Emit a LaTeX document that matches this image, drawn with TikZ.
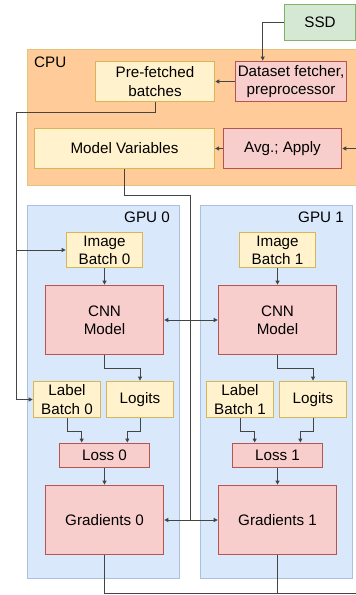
\documentclass[tikz,border=0pt]{standalone}
\usepackage{fontspec}
\setmainfont{Liberation Sans}
\usetikzlibrary{arrows.meta}
\definecolor{yfill}{HTML}{FFF2CC}
\definecolor{ydraw}{HTML}{D6B656}
\definecolor{rfill}{HTML}{F8CECC}
\definecolor{rdraw}{HTML}{B85450}
\definecolor{gfill}{HTML}{D5E8D4}
\definecolor{gdraw}{HTML}{82B366}
\definecolor{cpufill}{HTML}{FFCC99}
\definecolor{cpudraw}{HTML}{E6C27A}
\definecolor{gpufill}{HTML}{DAE8FC}
\definecolor{gpudraw}{HTML}{A9C0E0}
\definecolor{wire}{HTML}{444444}
\begin{document}
\begin{tikzpicture}[x=1bp,y=-1bp,
  font=\fontsize{15.2bp}{18.3bp}\selectfont,
  base/.style={rectangle,inner sep=0pt,align=center,line width=1bp},
  ybox/.style={base,fill=yfill,draw=ydraw},
  rbox/.style={base,fill=rfill,draw=rdraw},
  gbox/.style={base,fill=gfill,draw=gdraw},
  lbl/.style={inner sep=0pt},
  wireline/.style={draw=wire,line width=0.9bp},
  arr/.style={wireline,-{Triangle[length=4bp,width=4bp]}},
  arrtwo/.style={wireline,{Triangle[length=4bp,width=4bp]}-{Triangle[length=4bp,width=4bp]}}]
\useasboundingbox[fill=white] (0,0) rectangle (355,595);
% containers
\draw[line width=1bp,fill=cpufill,draw=cpudraw] (27,50) rectangle (362,185);
\node[lbl,anchor=base west] (cpulbl) at (34,67.5) {CPU};
\draw[line width=1bp,fill=gpufill,draw=gpudraw] (27,205) rectangle (179,578);
\draw[line width=1bp,fill=gpufill,draw=gpudraw] (200,205) rectangle (352,578);
\node[lbl,anchor=base east] (gpu0lbl) at (170,222) {GPU 0};
\node[lbl,anchor=base east] (gpu1lbl) at (344,222) {GPU 1};
% nodes
\node[gbox,minimum width=72,minimum height=37] (ssd) at (320,22.5) {SSD};
\node[ybox,minimum width=120,minimum height=41] (pf) at (155,81.5) {Pre-fetched\\batches};
\node[rbox,minimum width=112,minimum height=41] (ds) at (291,81.5) {Dataset fetcher,\\preprocessor};
\node[ybox,minimum width=181,minimum height=41] (mv) at (124.5,148.5) {Model Variables};
\node[rbox,minimum width=119,minimum height=41] (avg) at (282.5,148.5) {Avg.; Apply};
% GPU 0
\node[ybox,minimum width=77,minimum height=36] (ib0) at (104.5,250) {Image\\Batch 0};
\node[rbox,minimum width=119,minimum height=70] (cnn0) at (104.5,320) {CNN\\Model};
\node[ybox,minimum width=68,minimum height=37] (lb0) at (67,399.5) {Label\\Batch 0};
\node[ybox,minimum width=68,minimum height=37] (lg0) at (140,399.5) {Logits};
\node[rbox,minimum width=91,minimum height=25] (loss0) at (104.5,455.5) {Loss 0};
\node[rbox,minimum width=119,minimum height=70] (g0) at (104.5,520) {Gradients 0};
% GPU 1
\node[ybox,minimum width=77,minimum height=36] (ib1) at (277.5,250) {Image\\Batch 1};
\node[rbox,minimum width=119,minimum height=70] (cnn1) at (277.5,320) {CNN\\Model};
\node[ybox,minimum width=68,minimum height=37] (lb1) at (240,399.5) {Label\\Batch 1};
\node[ybox,minimum width=68,minimum height=37] (lg1) at (313,399.5) {Logits};
\node[rbox,minimum width=91,minimum height=25] (loss1) at (277.5,455.5) {Loss 1};
\node[rbox,minimum width=119,minimum height=70] (g1) at (277.5,520) {Gradients 1};
% bus coordinates
\coordinate (busL) at (16,112);
\coordinate (busM) at (190,195);
\coordinate (busR) at (360,593);
% connectors in CPU
\draw[arr] (ssd.west) -| ([xshift=28bp]ds.north west);
\draw[arr] (ds.west) -- (pf.east);
\draw[arr] (avg.west) -- (mv.east);
% prefetched to batches
\draw[wireline] (pf.south) |- (busL);
\draw[arr] (busL) |- (lb0.west);
\draw[arr] (busL |- ib0.west) -- (ib0.west);
% model variables line
\draw[wireline] (mv.south) |- (busM) -- (busM |- g0.east);
% sync arrows
\draw[arrtwo] (cnn0.east) -- (cnn1.west);
\draw[arrtwo] (g0.east) -- (g1.west);
% gradients back to CPU
\draw[arr] (g0.south) |- (busR) |- (avg.east);
\draw[wireline] (g1.south) -- (g1.south |- busR);
% GPU internals
\foreach \i in {0,1} {
  \draw[arr] (ib\i.south) -- (cnn\i.north);
  \draw[arr] (cnn\i.south) -- ++(0,13) -| (lg\i.north);
  \draw[arr] (lb\i.south) -- ++(0,13) -| ([xshift=23bp]loss\i.north west);
  \draw[arr] (lg\i.south) -- ++(0,13) -| ([xshift=-23bp]loss\i.north east);
  \draw[arr] (loss\i.south) -- (g\i.north);
}
\end{tikzpicture}
\end{document}
